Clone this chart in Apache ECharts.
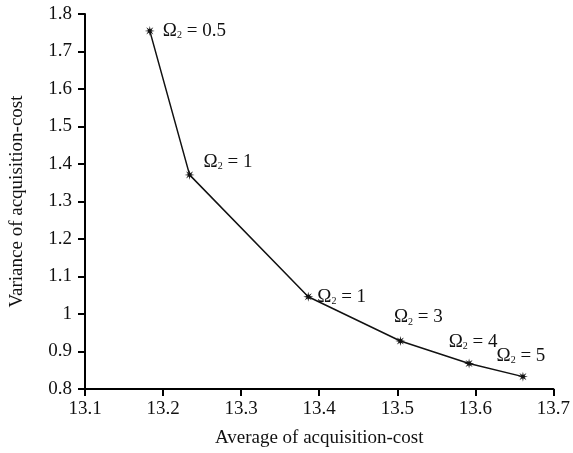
<!DOCTYPE html>
<html>
<head>
<meta charset="utf-8">
<script src="https://cdn.jsdelivr.net/npm/echarts@6/dist/echarts.min.js"></script>
<style>
  html, body { margin: 0; padding: 0; background: #fff; }
  #chart { width: 573px; height: 453px; }
</style>
</head>
<body>
<div id="chart"></div>
<script>
// Average and variance of acquisition cost for each Omega_2 setting
var avgCost = [13.183, 13.234, 13.386, 13.504, 13.592, 13.661];
var varCost = [1.755, 1.371, 1.046, 0.928, 0.868, 0.833];
var omegaLabels = ['0.5', '1', '1', '3', '4', '5'];
var xTicks = [13.1, 13.2, 13.3, 13.4, 13.5, 13.6, 13.7];
var yTicks = [0.8, 0.9, 1, 1.1, 1.2, 1.3, 1.4, 1.5, 1.6, 1.7, 1.8];

// label placement per point: [position, dx, dy]
var labelPlace = [
  ['right', 3, 0],
  ['right', 4, -13],
  ['right', -1, 0],
  ['top', 18, -4],
  ['top', 4, -2],
  ['top', -2, -1]
];

// asterisk-like marker: an 8-point star
function starPath(points, rOut, rIn) {
  var d = '';
  for (var i = 0; i < points * 2; i++) {
    var r = i % 2 === 0 ? rOut : rIn;
    var a = Math.PI * i / points;
    var px = (r * Math.sin(a)).toFixed(2), py = (-r * Math.cos(a)).toFixed(2);
    d += (i === 0 ? 'M' : 'L') + px + ' ' + py;
  }
  return 'path://' + d + 'Z';
}

var font = '"Liberation Serif", "Times New Roman", serif';
var fs = 19;
var data = avgCost.map(function (x, i) {
  var p = labelPlace[i];
  return {
    value: [x, varCost[i]],
    label: {
      show: true,
      position: p[0],
      offset: [p[1], p[2]],
      formatter: '{o|\u03A9}{s|2}{t| = ' + omegaLabels[i] + '}',
      rich: {
        o: { fontFamily: font, fontSize: fs, color: '#111' },
        s: { fontFamily: font, fontSize: 10, color: '#111', padding: [9, 0, 0, 0] },
        t: { fontFamily: font, fontSize: fs, color: '#111' }
      }
    }
  };
});

var chart = echarts.init(document.getElementById('chart'), null, { renderer: 'canvas' });
chart.setOption({
  animation: false,
  backgroundColor: '#fff',
  grid: { left: 83, right: 12, top: 14, bottom: 63, containLabel: false },
  xAxis: {
    type: 'value',
    min: 13.1, max: 13.7, interval: 0.1,
    name: 'Average of acquisition-cost',
    nameLocation: 'middle', nameGap: 40,
    nameTextStyle: { fontFamily: font, fontSize: fs, color: '#111' },
    axisLine: { lineStyle: { color: '#000', width: 2 } },
    axisTick: { show: true, length: 7, lineStyle: { color: '#000', width: 2 } },
    axisLabel: {
      fontFamily: font, fontSize: fs, color: '#111', margin: 11,
      formatter: function (v) { return xTicks.indexOf(+v.toFixed(1)) >= 0 ? v.toFixed(1) : ''; }
    },
    splitLine: { show: false }
  },
  yAxis: {
    type: 'value',
    min: 0.8, max: 1.8, interval: 0.1,
    name: 'Variance of acquisition-cost',
    nameLocation: 'middle', nameGap: 58,
    nameTextStyle: { fontFamily: font, fontSize: fs, color: '#111' },
    axisLine: { show: true, lineStyle: { color: '#000', width: 2 } },
    axisTick: { show: true, length: 7, lineStyle: { color: '#000', width: 2 } },
    axisLabel: {
      fontFamily: font, fontSize: fs, color: '#111', margin: 13,
      formatter: function (v) {
        var r = Math.round(v * 10) / 10;
        return yTicks.indexOf(r) >= 0 ? String(r) : '';
      }
    },
    splitLine: { show: false }
  },
  series: [{
    type: 'line',
    data: data,
    symbol: starPath(8, 5, 1.8),
    symbolSize: 10,
    itemStyle: { color: '#111' },
    lineStyle: { color: '#111', width: 1.5 }
  }]
});
</script>
</body>
</html>
